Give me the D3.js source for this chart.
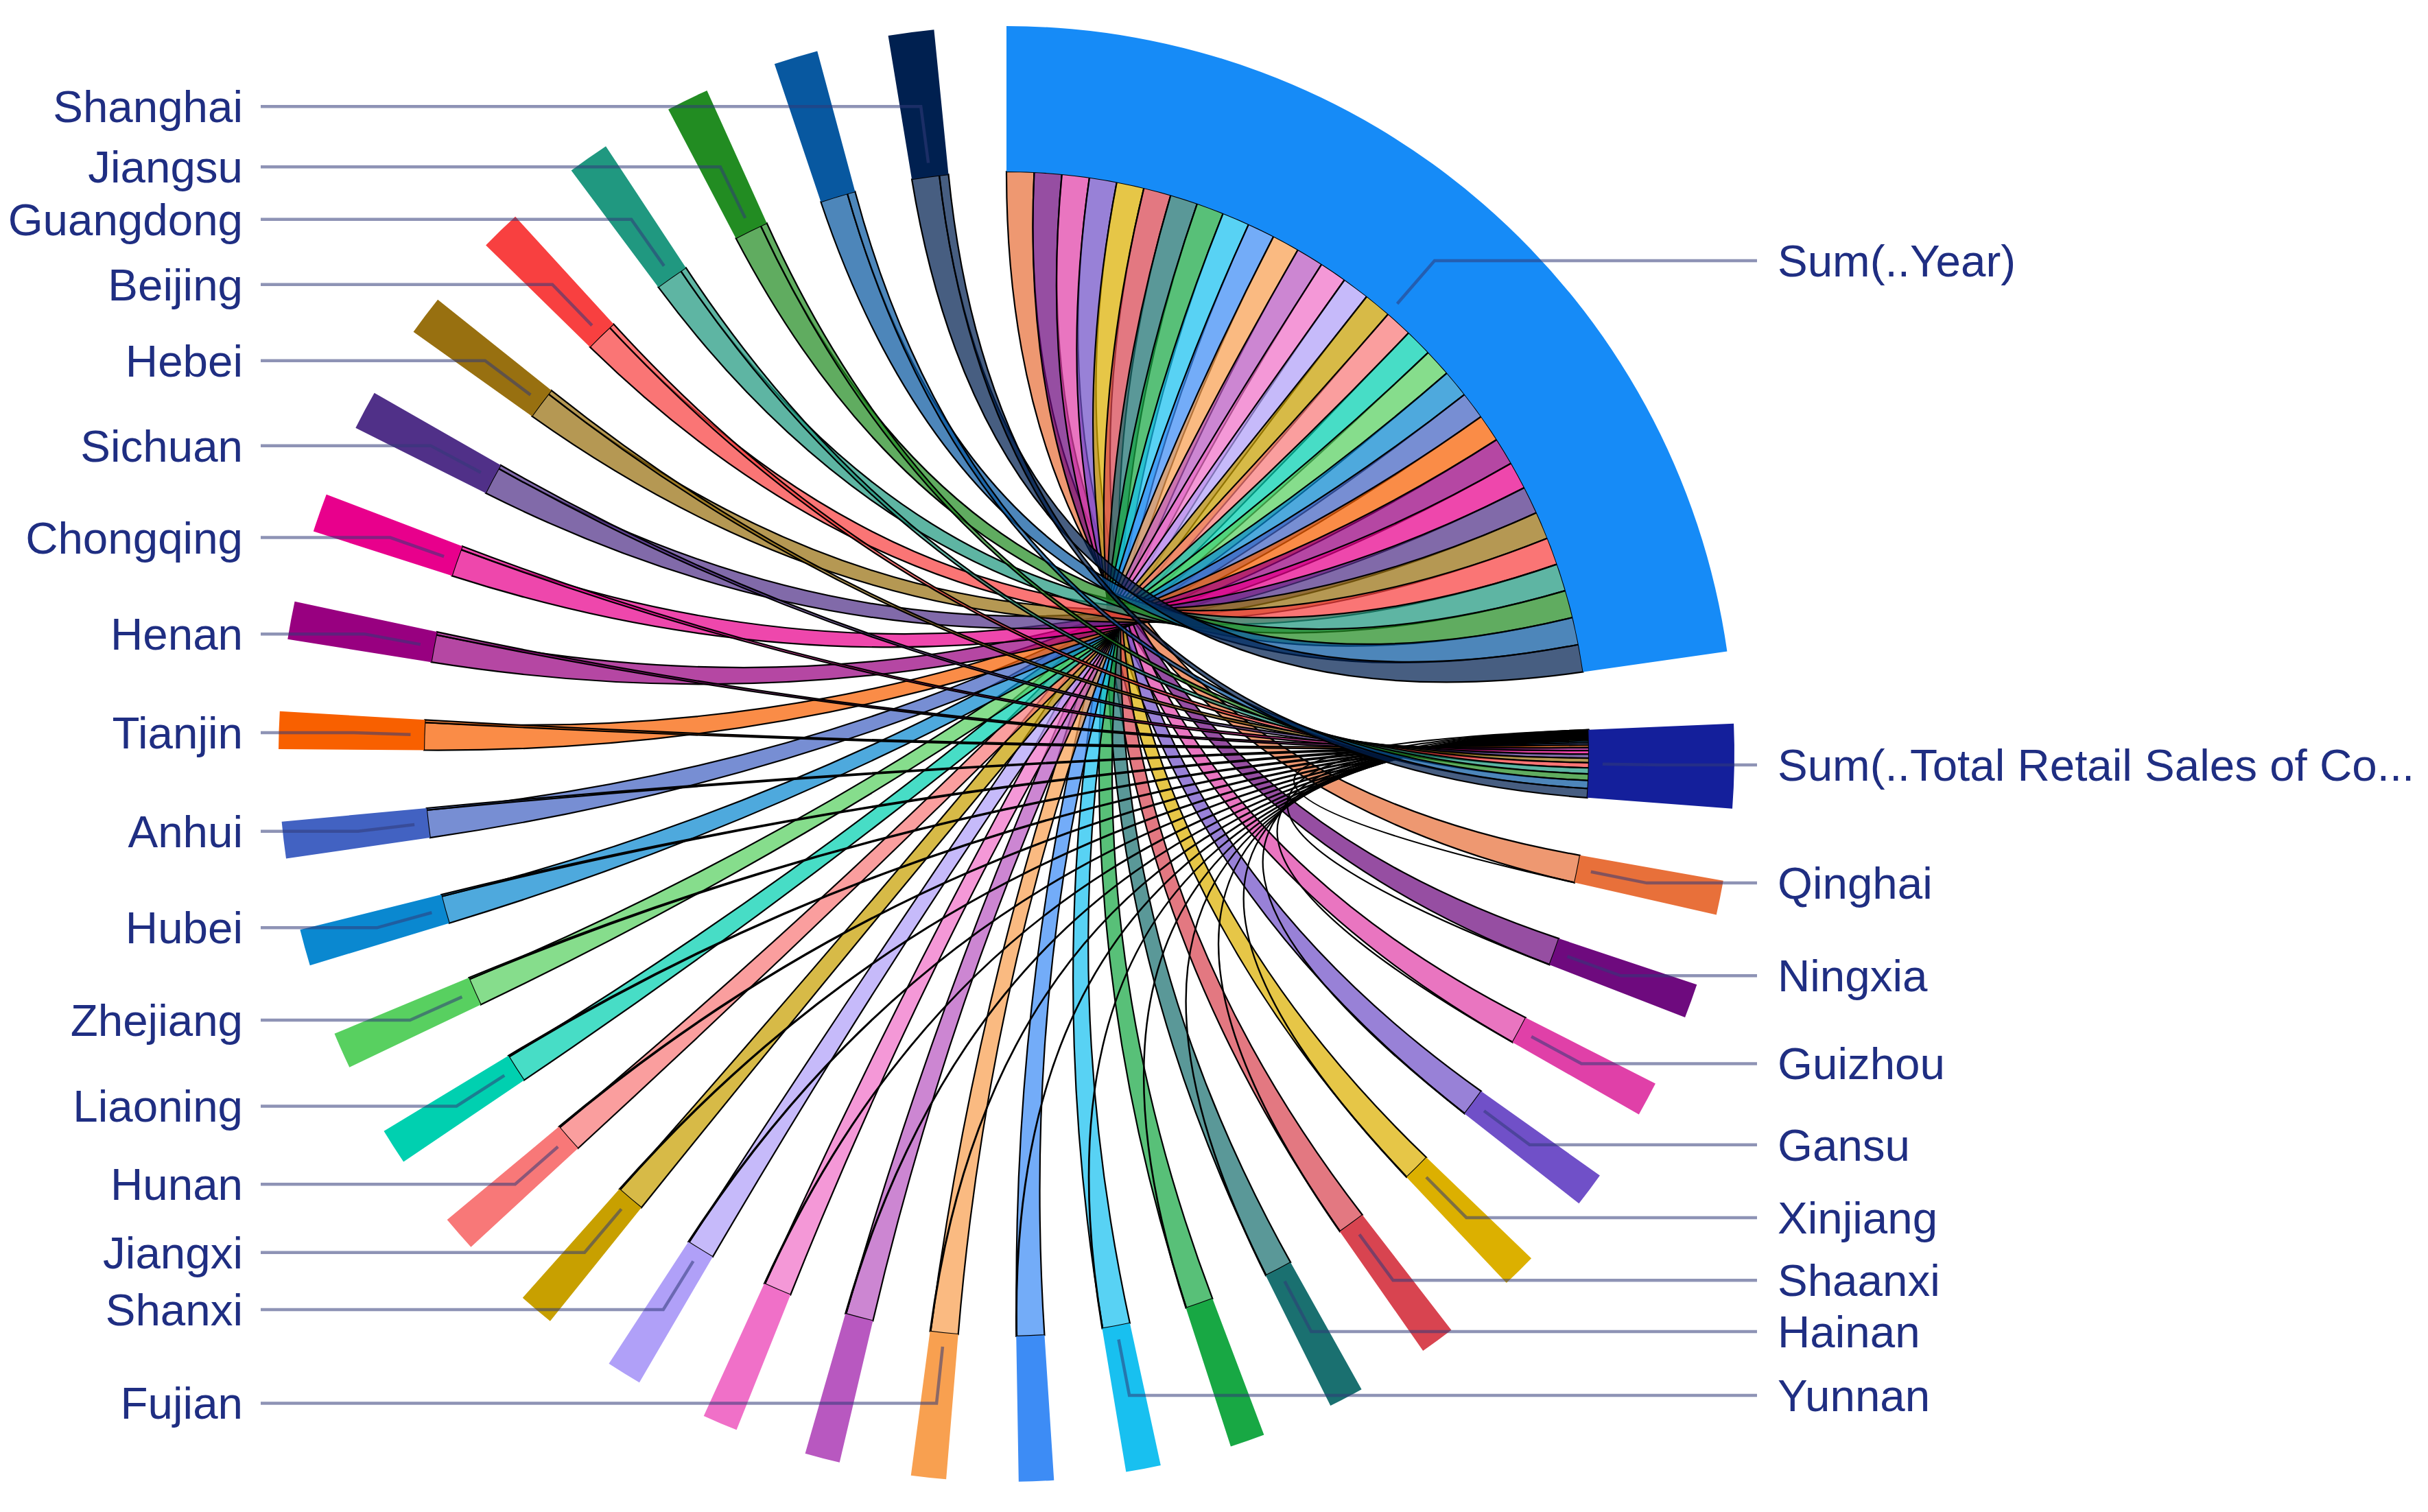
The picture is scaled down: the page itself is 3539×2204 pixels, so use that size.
<!DOCTYPE html>
<html>
<head>
<meta charset="utf-8">
<title>Chord</title>
<script src="https://cdnjs.cloudflare.com/ajax/libs/d3/7.8.5/d3.min.js"></script>
<style>
  body { margin: 0; background: #fff; }
  text { font-family: "Liberation Sans", Arial, sans-serif; }
</style>
</head>
<body>
<script>

// the two measures, then the provinces clockwise from the retail arc
var measures = ["Sum(..Year)", "Sum(..Total Retail Sales of Consumer Goods)"];
var measureColors = ["#168bf7", "#141f9b"];

var provinces = ["Qinghai", "Ningxia", "Guizhou", "Gansu", "Xinjiang", "Shaanxi", "Hainan",
  "Jilin", "Yunnan", "Guangxi", "Fujian", "Inner Mongolia", "Heilongjiang", "Shanxi",
  "Jiangxi", "Hunan", "Liaoning", "Zhejiang", "Hubei", "Anhui", "Tianjin", "Henan",
  "Chongqing", "Sichuan", "Hebei", "Beijing", "Guangdong", "Jiangsu", "Shandong", "Shanghai"];

var provinceColors = ["#e8703a", "#6e0a7e", "#e040a8", "#7050c8", "#dcb000", "#d84450", "#1a7070",
  "#18a844", "#18c0f0", "#3d8cf5", "#f8a050", "#b858c0", "#f070c8", "#b0a0f8",
  "#c8a000", "#f87878", "#00d0b0", "#58d060", "#0a88d0", "#4262c2", "#f86000", "#980080",
  "#e8008c", "#503088", "#987010", "#f84040", "#209880", "#228c22", "#0858a0", "#002050"];

var yearSum = [20155, 20155, 20155, 20155, 20155, 20155, 20155, 20155, 20155, 20155,
  20155, 20155, 20155, 20155, 20155, 20155, 20155, 20155, 20155, 20155,
  20155, 20155, 20155, 20155, 20155, 20155, 20155, 20155, 20155, 20155];

var retailSum = [68, 92, 131, 158, 206, 237, 268, 311, 352, 389,
  447, 503, 584, 671, 752, 868, 1017, 1196, 1342, 1461,
  1873, 2186, 2604, 2918, 3347, 3712, 4386, 4835, 5826, 6713];

// labels the chart leaves out because they would collide
var hiddenLabels = ["Jilin", "Guangxi", "Inner Mongolia", "Heilongjiang", "Shandong"];

var width = 3539, height = 2204;
var cx = 1467, cy = 1099;
var outerR = 1061, innerR = 849;
var lineMidR = 952, lineInR = 869;

var names = measures.concat(provinces);
var colors = measureColors.concat(provinceColors);
var n = names.length;

var matrix = d3.range(n).map(function() { return d3.range(n).map(function() { return 0; }); });
provinces.forEach(function(p, i) {
  matrix[0][i + 2] = matrix[i + 2][0] = yearSum[i];
  matrix[1][i + 2] = matrix[i + 2][1] = retailSum[i];
});

var chords = d3.chord().padAngle(0.0997)(matrix);

var svg = d3.select("body").append("svg")
  .attr("width", width)
  .attr("height", height);
var g = svg.append("g")
  .attr("transform", "translate(" + cx + "," + cy + ")");

var arc = d3.arc().innerRadius(innerR).outerRadius(outerR);
var ribbon = d3.ribbon().radius(innerR);

// ribbons
g.append("g").selectAll("path")
  .data(chords)
  .join("path")
  .attr("d", ribbon)
  .attr("fill", function(d) { return colors[Math.max(d.source.index, d.target.index)]; })
  .attr("fill-opacity", 0.72)
  .attr("stroke", "#000")
  .attr("stroke-width", 2.2);

// outer arcs
g.append("g").selectAll("path")
  .data(chords.groups)
  .join("path")
  .attr("d", arc)
  .attr("fill", function(d) { return colors[d.index]; });

function pt(r, a) { return [r * Math.sin(a), -r * Math.cos(a)]; }

var labelled = chords.groups.filter(function(d) {
  return hiddenLabels.indexOf(names[d.index]) < 0;
});

// leader lines
g.append("g").selectAll("path")
  .data(labelled)
  .join("path")
  .attr("fill", "none")
  .attr("stroke", "rgba(50,58,120,0.55)")
  .attr("stroke-width", 4.5)
  .attr("d", function(d) {
    var a = (d.startAngle + d.endAngle) / 2;
    var m = pt(lineMidR, a), q = pt(lineInR, a);
    var x0 = a < Math.PI ? 1094 : -1087;
    return "M" + x0 + "," + m[1] + "L" + m[0] + "," + m[1] + "L" + q[0] + "," + q[1];
  });

// labels
g.append("g").selectAll("text")
  .data(labelled)
  .join("text")
  .attr("x", function(d) { return (d.startAngle + d.endAngle) / 2 < Math.PI ? 1124 : -1113; })
  .attr("y", function(d) { return pt(lineMidR, (d.startAngle + d.endAngle) / 2)[1]; })
  .attr("dy", "0.35em")
  .attr("text-anchor", function(d) { return (d.startAngle + d.endAngle) / 2 < Math.PI ? "start" : "end"; })
  .attr("font-size", 65.5)
  .attr("fill", "#1f2e82")
  .text(function(d) {
    var s = names[d.index];
    return s.length > 30 ? s.slice(0, 30) + "..." : s;
  });

</script>
</body>
</html>
